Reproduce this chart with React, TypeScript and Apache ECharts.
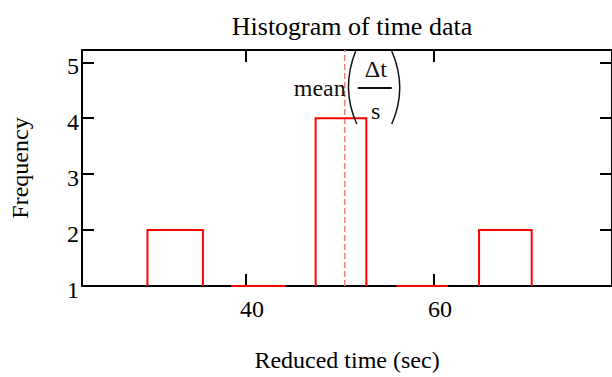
import React, { useEffect, useRef } from "react";
import * as echarts from "echarts";

// ---- data ----
const binLower = [29.5, 38.4, 47.4, 56.0, 64.8];
const binUpper = [35.4, 44.2, 52.8, 61.5, 70.4];
const counts = [2, 1, 4, 1, 2];
const meanTime = 50.5;
const xTicks = [40, 60];
const yTicks = [1, 2, 3, 4, 5];
const xMin = 22.53;
const xMax = 78.95;
const yMin = 1;
const yMax = 5.22;

const FONT = "'Liberation Serif', 'Times New Roman', serif";

export default function App() {
  const ref = useRef<HTMLDivElement>(null);

  useEffect(() => {
    if (!ref.current) return;
    const chart = echarts.init(ref.current, null, { renderer: "svg" });

    const binData = binLower.map((lo, i) => [lo, binUpper[i], counts[i]]);

    const axisLine = { show: true, lineStyle: { color: "#000", width: 2 } };
    const tickStyle = { color: "#000", width: 2 };

    chart.setOption({
      animation: false,
      backgroundColor: "#fff",
      title: {
        text: "Histogram of time data",
        left: 347,
        textAlign: "center",
        top: 8,
        textStyle: { fontFamily: FONT, fontSize: 26, fontWeight: "normal", color: "#000" },
      },
      grid: { left: 79, right: -3, top: 50, bottom: 87, containLabel: false },
      xAxis: [
        {
          type: "value",
          position: "bottom",
          min: xMin,
          max: xMax,
          name: "Reduced time (sec)",
          nameLocation: "middle",
          nameGap: 62,
          nameTextStyle: { fontFamily: FONT, fontSize: 24, color: "#000" },
          axisLine,
          axisTick: { show: true, inside: true, length: 12, customValues: xTicks, lineStyle: tickStyle },
          axisLabel: {
            show: true,
            customValues: xTicks,
            margin: 11,
            padding: [0, 0, 0, 12],
            fontFamily: FONT,
            fontSize: 24,
            color: "#000",
          },
          splitLine: { show: false },
        },
        {
          type: "value",
          position: "top",
          min: xMin,
          max: xMax,
          axisLine,
          axisTick: { show: true, inside: true, length: 12, customValues: xTicks, lineStyle: tickStyle },
          axisLabel: { show: false },
          splitLine: { show: false },
        },
      ],
      yAxis: [
        {
          type: "value",
          position: "left",
          min: yMin,
          max: yMax,
          name: "Frequency",
          nameLocation: "middle",
          nameGap: 50,
          nameTextStyle: { fontFamily: FONT, fontSize: 24, color: "#000" },
          axisLine,
          axisTick: { show: true, inside: true, length: 12, customValues: yTicks, lineStyle: tickStyle },
          axisLabel: {
            show: true,
            customValues: yTicks,
            margin: 3,
            verticalAlign: "top",
            lineHeight: 8,
            fontFamily: FONT,
            fontSize: 24,
            color: "#000",
          },
          splitLine: { show: false },
        },
        {
          type: "value",
          position: "right",
          min: yMin,
          max: yMax,
          axisLine,
          axisTick: { show: true, inside: true, length: 12, customValues: yTicks, lineStyle: tickStyle },
          axisLabel: { show: false },
          splitLine: { show: false },
        },
      ],
      series: [
        {
          type: "line",
          xAxisIndex: 0,
          yAxisIndex: 0,
          data: [
            [meanTime, yMin],
            [meanTime, yMax],
          ],
          symbol: "none",
          lineStyle: { color: "#f08080", width: 1.5, type: [6, 3] },
          z: 1,
        },
        {
          type: "custom",
          xAxisIndex: 0,
          yAxisIndex: 0,
          data: binData,
          encode: { x: [0, 1], y: 2 },
          z: 3,
          renderItem: (params: any, api: any) => {
            const lo = api.value(0);
            const hi = api.value(1);
            const c = api.value(2);
            const pts = [api.coord([lo, yMin]), api.coord([lo, c]), api.coord([hi, c]), api.coord([hi, yMin])];
            return {
              type: "polyline",
              shape: { points: pts },
              style: { stroke: "#ff0000", lineWidth: 2, fill: null },
            };
          },
        },
      ],
    });

    const mx = chart.convertToPixel({ xAxisIndex: 0 }, meanTime) as number;
    const ink = "#111";
    chart.setOption({
      graphic: [
        {
          type: "text",
          x: mx + 1,
          y: 88,
          style: { text: "mean", fontFamily: FONT, fontSize: 24, fill: ink, align: "right", verticalAlign: "middle" },
          z: 10,
        },
        {
          type: "bezierCurve",
          shape: { x1: mx + 11, y1: 51, x2: mx + 12, y2: 124, cpx1: mx - 4, cpy1: 88 },
          style: { stroke: ink, lineWidth: 1.5, fill: null },
          z: 10,
        },
        {
          type: "bezierCurve",
          shape: { x1: mx + 47, y1: 51, x2: mx + 47, y2: 124, cpx1: mx + 63, cpy1: 88 },
          style: { stroke: ink, lineWidth: 1.5, fill: null },
          z: 10,
        },
        {
          type: "text",
          x: mx + 31,
          y: 69,
          style: { text: "Δt", fontFamily: FONT, fontSize: 24, fill: ink, align: "center", verticalAlign: "middle" },
          z: 10,
        },
        {
          type: "line",
          shape: { x1: mx + 13, y1: 88, x2: mx + 47, y2: 88 },
          style: { stroke: ink, lineWidth: 2 },
          z: 10,
        },
        {
          type: "text",
          x: mx + 31,
          y: 111,
          style: { text: "s", fontFamily: FONT, fontSize: 24, fill: ink, align: "center", verticalAlign: "middle" },
          z: 10,
        },
      ],
    });

    return () => chart.dispose();
  }, []);

  return (
    <div
      ref={ref}
      style={{ position: "fixed", left: 0, top: 0, width: 612, height: 377, background: "#fff" }}
    />
  );
}
